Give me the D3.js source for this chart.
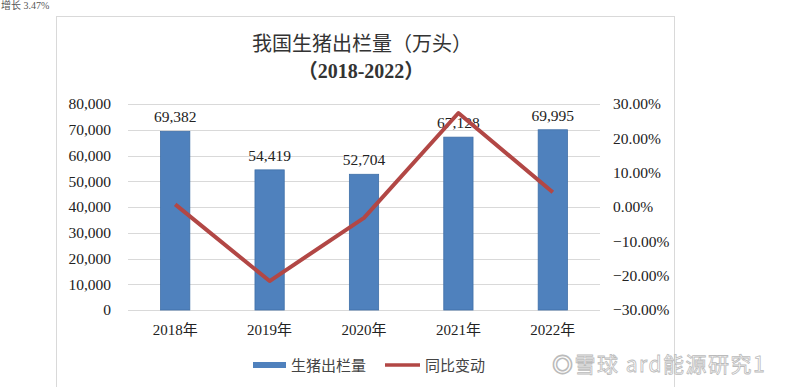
<!DOCTYPE html>
<meta charset="utf-8">
<script src="https://cdn.jsdelivr.net/npm/d3@7"></script>
<style>
  body { margin: 0; background: #fff; }
  text { font-family: "Liberation Serif", "Noto Sans CJK SC", serif; fill: #222; }
</style>
<body>
<script>
  // data
  var years = ["2018年", "2019年", "2020年", "2021年", "2022年"];
  var output = [69382, 54419, 52704, 67128, 69995];     // 万头
  var yoy = [0.76, -21.57, -3.15, 27.37, 4.27];          // %
  var leftTicks = [0, 10000, 20000, 30000, 40000, 50000, 60000, 70000, 80000];
  var rightTicks = [-30, -20, -10, 0, 10, 20, 30];

  var W = 800, H = 387;
  var plot = { left: 128, right: 600, top: 104, bottom: 310 };

  var svg = d3.select("body").append("svg")
    .attr("width", W)
    .attr("height", H);

  // text left over from the page above the chart
  svg.append("text")
    .attr("x", 1).attr("y", 9)
    .style("font-size", "10px")
    .style("fill", "#555")
    .text("增长 3.47%");

  // chart frame
  svg.append("rect")
    .attr("x", 56.5).attr("y", 16.5)
    .attr("width", 618).attr("height", 400)
    .attr("fill", "none")
    .attr("stroke", "#d9d9d9");

  var x = d3.scaleBand()
    .domain(years)
    .range([plot.left, plot.right])
    .paddingInner(0.69)
    .paddingOuter(0.345);

  var y = d3.scaleLinear()
    .domain([0, 80000])
    .range([plot.bottom, plot.top]);

  var y2 = d3.scaleLinear()
    .domain([-30, 30])
    .range([plot.bottom, plot.top]);

  // grid lines
  svg.append("g")
    .selectAll("line")
    .data(leftTicks)
    .enter().append("line")
    .attr("x1", plot.left)
    .attr("x2", plot.right)
    .attr("y1", function (d) { return Math.round(y(d)) + 0.5; })
    .attr("y2", function (d) { return Math.round(y(d)) + 0.5; })
    .attr("stroke", "#d9d9d9")
    .attr("stroke-width", 1);

  // left axis labels
  var fmt = d3.format(",");
  svg.append("g")
    .selectAll("text")
    .data(leftTicks)
    .enter().append("text")
    .attr("x", 111)
    .attr("y", function (d) { return y(d); })
    .attr("dy", "0.35em")
    .attr("text-anchor", "end")
    .style("font-size", "15.5px")
    .text(function (d) { return fmt(d); });

  // right axis labels
  svg.append("g")
    .selectAll("text")
    .data(rightTicks)
    .enter().append("text")
    .attr("x", 613)
    .attr("y", function (d) { return y2(d); })
    .attr("dy", "0.35em")
    .attr("text-anchor", "start")
    .style("font-size", "15.5px")
    .text(function (d) { return d3.format(".2f")(d) + "%"; });

  // bars
  svg.append("g")
    .selectAll("rect")
    .data(output)
    .enter().append("rect")
    .attr("x", function (d, i) { return x(years[i]); })
    .attr("width", x.bandwidth())
    .attr("y", function (d) { return y(d); })
    .attr("height", function (d) { return plot.bottom - y(d); })
    .attr("fill", "#4f81bd")
    .attr("stroke", "#3f6fa8")
    .attr("stroke-width", 0.8);

  // bar value labels
  svg.append("g")
    .selectAll("text")
    .data(output)
    .enter().append("text")
    .attr("x", function (d, i) { return x(years[i]) + x.bandwidth() / 2; })
    .attr("y", function (d) { return y(d) - 9; })
    .attr("text-anchor", "middle")
    .style("font-size", "15.5px")
    .text(function (d) { return fmt(d); });

  // year-on-year line
  var line = d3.line()
    .x(function (d, i) { return x(years[i]) + x.bandwidth() / 2; })
    .y(function (d) { return y2(d); });

  svg.append("path")
    .datum(yoy)
    .attr("d", line)
    .attr("fill", "none")
    .attr("stroke", "#b24745")
    .attr("stroke-width", 4)
    .attr("stroke-linejoin", "round");

  // x labels
  svg.append("g")
    .selectAll("text")
    .data(years)
    .enter().append("text")
    .attr("x", function (d) { return x(d) + x.bandwidth() / 2; })
    .attr("y", 330)
    .attr("dy", "0.35em")
    .attr("text-anchor", "middle")
    .style("font-size", "15px")
    .text(function (d) { return d; });

  // title
  svg.append("text")
    .attr("x", 362).attr("y", 44)
    .attr("dy", "0.35em")
    .attr("text-anchor", "middle")
    .style("font-family", "'Noto Sans CJK SC', sans-serif")
    .style("font-size", "20px")
    .style("fill", "#333")
    .text("我国生猪出栏量（万头）");

  svg.append("text")
    .attr("x", 361).attr("y", 71)
    .attr("dy", "0.35em")
    .attr("text-anchor", "middle")
    .style("font-size", "20px")
    .style("font-weight", "bold")
    .style("fill", "#333")
    .text("（2018-2022）");

  // legend
  var legend = svg.append("g");
  legend.append("rect")
    .attr("x", 253).attr("y", 362)
    .attr("width", 33).attr("height", 6)
    .attr("fill", "#4f81bd");
  legend.append("text")
    .attr("x", 291).attr("y", 366)
    .attr("dy", "0.35em")
    .style("font-family", "'Noto Sans CJK SC', sans-serif")
    .style("font-size", "15px")
    .style("fill", "#444")
    .text("生猪出栏量");
  legend.append("line")
    .attr("x1", 385).attr("x2", 420)
    .attr("y1", 365).attr("y2", 365)
    .attr("stroke", "#b24745")
    .attr("stroke-width", 3.5);
  legend.append("text")
    .attr("x", 425).attr("y", 366)
    .attr("dy", "0.35em")
    .style("font-family", "'Noto Sans CJK SC', sans-serif")
    .style("font-size", "15px")
    .style("fill", "#444")
    .text("同比变动");

  // watermark
  svg.append("text")
    .attr("x", 552).attr("y", 365)
    .attr("dy", "0.35em")
    .style("font-family", "'Noto Sans CJK SC', sans-serif")
    .style("font-size", "21px")
    .style("letter-spacing", "1.5px")
    .style("fill", "none")
    .style("stroke", "#bbb")
    .style("stroke-width", 0.8)
    .text("◎雪球 ard能源研究1");
</script>
</body>
